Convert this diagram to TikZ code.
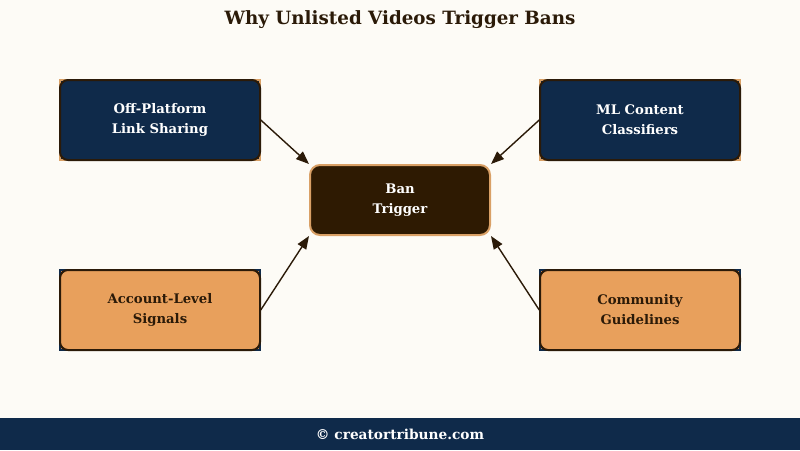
\documentclass[tikz,border=0pt]{standalone}
\usepackage{fontspec}
\setmainfont{DejaVu Serif}
\usetikzlibrary{arrows.meta}
\definecolor{bg}{HTML}{FDFBF6}
\definecolor{navy}{HTML}{0F2A4A}
\definecolor{orng}{HTML}{E8A05C}
\definecolor{tan}{HTML}{D9A066}
\definecolor{dark}{HTML}{2B1A08}
\definecolor{cfill}{HTML}{2E1A02}
\tikzset{
  outerbox/.style={rectangle, minimum width=200pt, minimum height=80pt, line width=1.5pt},
  innerbox/.style={rectangle, rounded corners=8pt, minimum width=200pt, minimum height=80pt, line width=2pt, draw=dark, align=center, font=\fontsize{13.2}{20}\selectfont\bfseries},
  topouter/.style={outerbox, draw=tan, fill=navy},
  topinner/.style={innerbox, fill=navy, text=white},
  botouter/.style={outerbox, draw=navy, fill=orng},
  botinner/.style={innerbox, fill=orng, text=dark},
  centerbox/.style={rectangle, rounded corners=10pt, minimum width=180pt, minimum height=70pt, line width=2pt, draw=tan, fill=cfill, text=white, align=center, font=\fontsize{13.2}{20}\selectfont\bfseries},
  conn/.style={-{Triangle[length=13pt,width=10pt]}, line width=1.4pt, draw=dark, color=dark}
}
\begin{document}
\begin{tikzpicture}[x=1pt,y=-1pt]
\fill[bg] (0,0) rectangle (800,450);
\useasboundingbox (0,0) rectangle (800,450);
\fill[navy] (0,418) rectangle (800,450);
\node[font=\fontsize{13.7}{15}\selectfont\bfseries, text=white] (foot) at (400,434) {© creatortribune.com};
\node[font=\fontsize{18.3}{20}\selectfont\bfseries, text=dark] (title) at (400,20) {Why Unlisted Videos Trigger Bans};

\node[topouter] (o1) at (160,120) {};
\node[topinner] (a) at (160,120) {Off-Platform\\Link Sharing};
\node[topouter] (o2) at (640,120) {};
\node[topinner] (b) at (640,120) {ML Content\\Classifiers};
\node[botouter] (o3) at (160,310) {};
\node[botinner] (c) at (160,310) {Account-Level\\Signals};
\node[botouter] (o4) at (640,310) {};
\node[botinner] (d) at (640,310) {Community\\Guidelines};

\node[centerbox] (ban) at (400,200) {Ban\\Trigger};

\draw[conn] (o1.east) -- (ban.north west);
\draw[conn] (o2.west) -- (ban.north east);
\draw[conn] (o3.east) -- (ban.south west);
\draw[conn] (o4.west) -- (ban.south east);
\end{tikzpicture}
\end{document}
